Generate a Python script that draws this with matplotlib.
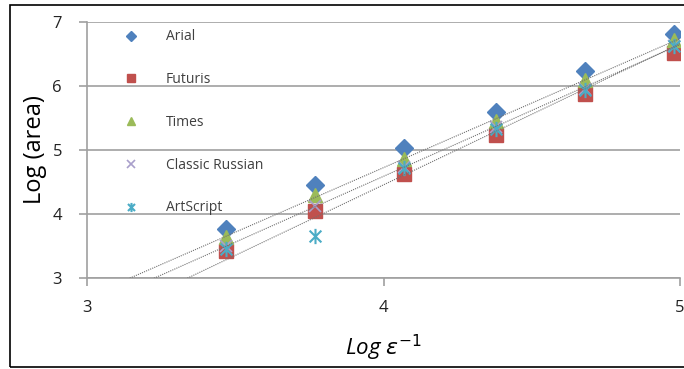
import matplotlib.pyplot as plt
import numpy as np
from matplotlib.path import Path
from matplotlib.patches import Rectangle

# log(1/eps) positions
log_inv_eps = [3.47, 3.77, 4.07, 4.38, 4.68, 4.98]

arial = [3.77, 4.46, 5.03, 5.60, 6.23, 6.82]
futuris = [3.42, 4.04, 4.62, 5.24, 5.87, 6.52]
times = [3.64, 4.30, 4.86, 5.46, 6.09, 6.72]
classic_russian = [3.50, 4.12, 4.74, 5.36, 5.96, 6.63]
artscript = [3.45, 3.65, 4.72, 5.33, 5.93, 6.63]

series_names = ["Arial", "Futuris", "Times", "Classic Russian", "ArtScript"]

# excel-like asterisk marker
star = Path([(-1, -1), (1, 1), (-1, 1), (1, -1), (0, -1.3), (0, 1.3)],
            [Path.MOVETO, Path.LINETO, Path.MOVETO, Path.LINETO, Path.MOVETO, Path.LINETO])

styles = [
    dict(marker="D", color="#4F81BD", ms=9),
    dict(marker="s", color="#C0504D", ms=10),
    dict(marker="^", color="#9BBB59", ms=10),
    dict(marker="x", color="#A99FCB", ms=9, mew=1.2),
    dict(marker=star, color="#4BACC6", ms=11, mew=1.5),
]

plt.rcParams['font.family'] = ['Open Sans', 'DejaVu Sans']

fig = plt.figure(figsize=(6.84, 3.69), dpi=100)
ax = fig.add_axes([87 / 684, 1 - 278 / 369, (680 - 87) / 684, (278 - 22) / 369])

all_y = [arial, futuris, times, classic_russian, artscript]
for name, ys, st in zip(series_names, all_y, styles):
    ax.plot(log_inv_eps, ys, linestyle="none", label=name, zorder=3, **st)

# dotted linear trendlines
xt = np.array([3.0, 5.0])
for ys in [times, classic_russian, artscript]:
    k, b = np.polyfit(log_inv_eps, ys, 1)
    ax.plot(xt, k * xt + b, linestyle=(0, (1, 1)), color="#707070", lw=0.8, zorder=4)

ax.set_xlim(3, 5)
ax.set_ylim(3, 7)
ax.set_xticks([3, 4, 5])
ax.set_yticks([3, 4, 5, 6, 7])
ax.yaxis.grid(True, color="#A0A0A0", lw=1.2)
ax.set_axisbelow(True)
for s in ["top", "right"]:
    ax.spines[s].set_visible(False)
for s in ["left", "bottom"]:
    ax.spines[s].set_color("#A0A0A0")
    ax.spines[s].set_linewidth(1.2)
ax.tick_params(axis="both", direction="out", length=6, color="#A0A0A0", width=1.2,
               labelsize=12, labelcolor="#222222")
ax.tick_params(axis="y", pad=12)
ax.tick_params(axis="x", pad=10)

ax.set_ylabel("Log (area)", fontsize=17, labelpad=4)
ax.set_xlabel(r"Log $\varepsilon^{-1}$", fontsize=16, fontstyle="italic", labelpad=12)

leg = ax.legend(loc="upper left", bbox_to_anchor=(0.03, 1.02), frameon=False,
                labelspacing=2.0, handletextpad=1.5, fontsize=10, markerscale=0.6)
for t in leg.get_texts():
    t.set_color("#404040")

fig.patches.append(Rectangle((10 / 684, 1 - 367 / 369), 1.0, (367 - 5) / 369,
                             transform=fig.transFigure, fill=False, ec="black", lw=1.2))

fig.savefig("out.png", dpi=100)
